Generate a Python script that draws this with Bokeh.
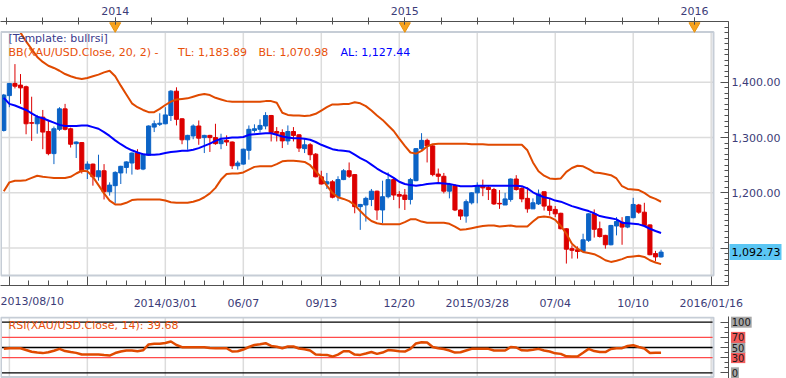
from bokeh.plotting import figure
from bokeh.layouts import column
from bokeh.models import (Range1d, FixedTicker, LinearAxis, Label,
                          NumeralTickFormatter, ColumnDataSource)
from bokeh.core.properties import value
from bokeh.embed import file_html
from bokeh.resources import INLINE

# ---------------- data (weekly XAU/USD) ----------------
opens = [1313, 1376, 1398, 1395, 1392, 1327, 1325, 1337, 1311, 1271,
         1315, 1352, 1316, 1289, 1291, 1243, 1252, 1229, 1240, 1202,
         1213, 1236, 1246, 1254, 1272, 1243, 1268, 1319, 1324, 1325,
         1340, 1384, 1334, 1296, 1303, 1321, 1300, 1304, 1300, 1289,
         1295, 1292, 1249, 1252, 1277, 1313, 1315, 1321, 1340, 1311,
         1309, 1294, 1311, 1305, 1280, 1287, 1270, 1229, 1216, 1220,
         1193, 1224, 1240, 1233, 1175, 1178, 1188, 1203, 1169, 1193,
         1224, 1197, 1196, 1188, 1222, 1280, 1295, 1285, 1234, 1230,
         1203, 1213, 1169, 1158, 1182, 1200, 1213, 1210, 1206, 1181,
         1178, 1188, 1225, 1208, 1190, 1171, 1180, 1202, 1176, 1170,
         1163, 1135, 1099, 1097, 1094, 1114, 1162, 1135, 1123, 1106,
         1140, 1147, 1138, 1155, 1178, 1165, 1142, 1090, 1084]
highs = [1379, 1399, 1433, 1415, 1394, 1374, 1341, 1350, 1332, 1320,
         1355, 1361, 1318, 1293, 1292, 1257, 1253, 1269, 1252, 1219,
         1239, 1249, 1257, 1273, 1279, 1271, 1322, 1331, 1344, 1355,
         1386, 1391, 1335, 1305, 1324, 1331, 1305, 1305, 1325, 1307,
         1304, 1293, 1258, 1280, 1322, 1324, 1333, 1346, 1341, 1319,
         1315, 1322, 1319, 1306, 1299, 1290, 1272, 1240, 1236, 1223,
         1230, 1243, 1255, 1234, 1180, 1193, 1207, 1204, 1222, 1237,
         1227, 1203, 1207, 1227, 1281, 1308, 1298, 1288, 1244, 1236,
         1218, 1216, 1170, 1188, 1201, 1219, 1224, 1213, 1209, 1205,
         1200, 1226, 1232, 1210, 1210, 1190, 1206, 1202, 1189, 1176,
         1164, 1136, 1105, 1103, 1126, 1163, 1170, 1148, 1124, 1142,
         1156, 1156, 1158, 1191, 1180, 1182, 1143, 1095, 1097]
lows = [1311, 1355, 1389, 1361, 1306, 1294, 1307, 1279, 1268, 1252,
        1312, 1313, 1282, 1263, 1235, 1225, 1213, 1222, 1188, 1195,
        1181, 1216, 1235, 1233, 1242, 1241, 1267, 1310, 1321, 1324,
        1330, 1322, 1288, 1278, 1297, 1287, 1272, 1274, 1287, 1279,
        1285, 1243, 1242, 1251, 1260, 1309, 1309, 1315, 1293, 1293,
        1281, 1287, 1293, 1274, 1272, 1259, 1228, 1215, 1207, 1190,
        1185, 1223, 1227, 1163, 1133, 1148, 1176, 1151, 1145, 1190,
        1187, 1172, 1169, 1179, 1221, 1278, 1255, 1230, 1218, 1199,
        1190, 1167, 1151, 1146, 1179, 1181, 1194, 1187, 1178, 1171,
        1178, 1184, 1204, 1183, 1164, 1171, 1178, 1168, 1159, 1156,
        1134, 1072, 1081, 1081, 1093, 1111, 1119, 1119, 1099, 1105,
        1123, 1106, 1136, 1154, 1162, 1139, 1087, 1076, 1083]
closes = [1377, 1398, 1393, 1390, 1325, 1326, 1337, 1310, 1271, 1316,
          1352, 1315, 1288, 1292, 1240, 1252, 1229, 1240, 1202, 1214,
          1237, 1248, 1256, 1272, 1243, 1270, 1321, 1325, 1326, 1341,
          1384, 1333, 1296, 1304, 1321, 1299, 1304, 1300, 1289, 1295,
          1292, 1249, 1254, 1279, 1315, 1316, 1322, 1340, 1309, 1308,
          1294, 1311, 1304, 1281, 1287, 1269, 1229, 1216, 1220, 1192,
          1224, 1240, 1230, 1175, 1179, 1190, 1203, 1169, 1193, 1224,
          1196, 1194, 1188, 1224, 1280, 1295, 1285, 1233, 1230, 1203,
          1215, 1169, 1158, 1184, 1200, 1213, 1209, 1206, 1180, 1180,
          1189, 1225, 1206, 1189, 1171, 1182, 1198, 1176, 1168, 1162,
          1135, 1098, 1096, 1094, 1115, 1162, 1134, 1121, 1106, 1141,
          1148, 1138, 1157, 1179, 1165, 1141, 1088, 1084, 1092.73]

bb_upper = [1541, 1515, 1500, 1490, 1474, 1460, 1446, 1437, 1430, 1426,
            1421, 1415, 1411, 1408, 1406, 1408, 1411, 1414, 1418, 1421,
            1411, 1394, 1378, 1362, 1355, 1350, 1346, 1346, 1352, 1359,
            1365, 1369, 1370, 1371, 1374, 1377, 1379, 1377, 1372, 1369,
            1366, 1365, 1365, 1365, 1365, 1365, 1365, 1366, 1366, 1363,
            1345, 1341, 1340, 1340, 1339, 1340, 1343, 1349, 1355, 1360,
            1360, 1361, 1361, 1364, 1362, 1357, 1349, 1340, 1332, 1322,
            1312, 1298, 1285, 1273, 1271, 1276, 1284, 1288, 1289, 1289,
            1289, 1289, 1289, 1289, 1288, 1288, 1288, 1287, 1287, 1287,
            1287, 1287, 1287, 1287, 1277, 1255, 1239, 1231, 1226, 1225,
            1226, 1238, 1245, 1249, 1248, 1243, 1237, 1236, 1234, 1232,
            1226, 1212, 1207, 1206, 1205, 1200, 1193, 1189, 1183.89]
bb_mid = [1372, 1361, 1358, 1354, 1350, 1344, 1338, 1335, 1331, 1327,
          1323, 1321, 1321, 1321, 1322, 1322, 1319, 1316, 1310, 1303,
          1295, 1288, 1282, 1277, 1273, 1270, 1269, 1269, 1270, 1272,
          1274, 1275, 1276, 1276, 1278, 1281, 1285, 1289, 1294, 1298,
          1299, 1300, 1300, 1301, 1305, 1306, 1307, 1308, 1308, 1305,
          1302, 1300, 1299, 1299, 1298, 1296, 1292, 1287, 1283, 1279,
          1277, 1276, 1275, 1269, 1263, 1258, 1251, 1244, 1238, 1233,
          1227, 1220, 1216, 1214, 1213, 1214, 1216, 1217, 1218, 1217,
          1216, 1214, 1212, 1212, 1212, 1213, 1213, 1213, 1213, 1213,
          1213, 1213, 1213, 1212, 1208, 1201, 1196, 1192, 1190, 1186,
          1184, 1180, 1176, 1173, 1170, 1167, 1163, 1158, 1156, 1154,
          1152, 1146, 1145, 1144, 1143, 1140, 1135, 1131, 1127.44]
bb_lower = [1203, 1219, 1222, 1222, 1223, 1227, 1231, 1229, 1228, 1227,
            1227, 1227, 1229, 1235, 1240, 1239, 1229, 1214, 1199, 1186,
            1179, 1179, 1182, 1187, 1188, 1188, 1188, 1188, 1188, 1186,
            1183, 1182, 1182, 1182, 1184, 1187, 1192, 1199, 1209, 1224,
            1234, 1235, 1235, 1237, 1242, 1247, 1248, 1248, 1248, 1252,
            1257, 1258, 1258, 1257, 1256, 1250, 1239, 1228, 1213, 1200,
            1192, 1189, 1185, 1178, 1167, 1157, 1149, 1145, 1143, 1143,
            1143, 1143, 1147, 1152, 1152, 1148, 1146, 1146, 1146, 1146,
            1144, 1139, 1133, 1134, 1136, 1138, 1140, 1141, 1141, 1139,
            1140, 1141, 1139, 1139, 1139, 1148, 1156, 1157, 1156, 1151,
            1140, 1126, 1108, 1099, 1093, 1091, 1089, 1084, 1078, 1075,
            1077, 1080, 1084, 1085, 1086, 1084, 1078, 1074, 1070.98]
rsi = [47.5, 48.6, 48.6, 48.6, 45, 41.5, 40, 38.9, 40.5, 43.5,
       47.3, 43, 41, 39.4, 36.1, 36.1, 36.1, 36.1, 35, 34.1,
       39, 42, 44, 44, 42.7, 44.5, 56, 57.2, 57.2, 59,
       61.8, 55, 50.6, 50.6, 50.6, 50.6, 50.6, 48.8, 48.6, 48.6,
       48.6, 42, 42.5, 46, 51, 55, 56.5, 58.5, 53, 51.5,
       48.6, 52, 51.9, 48, 46.5, 44, 36.1, 35.7, 35.4, 32.1,
       36, 42.7, 42.7, 36, 35.4, 38, 41, 37.4, 40, 45,
       44, 42.5, 42, 47.3, 58, 60.5, 60, 51, 48.6, 47,
       44, 40, 40.7, 44, 47.3, 47.3, 47.3, 47.3, 44, 44,
       44, 51, 50, 44.5, 44, 45.5, 47.3, 44, 42, 38.5,
       37.4, 32.5, 32.1, 32.1, 39.5, 47.3, 43, 41, 41, 47,
       48.6, 48.6, 53, 54.5, 51, 48, 39, 39.7, 39.68]

first_date_label = "2013/08/10"
date_tick_weeks = [1, 15, 29, 43, 57, 71, 85, 99, 113, 127]
date_tick_labels = ["", "", "2014/03/01", "06/07", "09/13", "12/20",
                    "2015/03/28", "07/04", "10/10", "2016/01/16"]
year_weeks = [20, 72, 124]
year_labels = ["2014", "2015", "2016"]
price_ticks = [1100, 1200, 1300, 1400]
rsi_levels = [0, 30, 50, 70, 100]
rsi_level_colors = ["#000000", "#FF4A4A", "#000000", "#FF4A4A", "#000000"]
rsi_tag_colors = ["#A6A6A6", "#F25C5C", "#A6A6A6", "#F25C5C", "#A6A6A6"]

legend_template = "[Template: bullrsi]"
legend_bb = "BB(XAU/USD.Close, 20, 2) -"
legend_tl = "TL: 1,183.89"
legend_bl = "BL: 1,070.98"
legend_al = "AL: 1,127.44"
legend_rsi = "RSI(XAU/USD.Close, 14): 39.68"

# ---------------- styling / geometry ----------------
FONT = "DejaVu Sans"
UP, DOWN = "#0B63C6", "#DC0000"
BB_COL, SMA_COL = "#E04A00", "#0000FF"
GRID = "#DCDCDC"
FRAME = "#C6CDD6"
AXIS = "#505050"
LABEL = "#3C3C78"

n = len(closes)
weeks = list(range(n))

PXW = 5.57
X0 = -3.3 / PXW
PLOT_W = 728
XEND = X0 + PLOT_W / PXW


def X(px):
    return X0 + px / PXW


PPY = 0.5567
TOP, BOT = 21, 287
Y_TOP = 1400 + (82.3 - TOP) / PPY
Y_BOT = Y_TOP - (BOT - TOP) / PPY


def Y(py):
    return Y_TOP - (py - TOP) / PPY


def style_axis(ax, size="11px"):
    ax.axis_line_color = AXIS
    ax.major_tick_line_color = AXIS
    ax.minor_tick_line_color = AXIS
    ax.major_label_text_font = FONT
    ax.major_label_text_font_size = size
    ax.major_label_text_color = LABEL


# ---------------- main price panel ----------------
MAIN_H = 312
p = figure(width=786, height=MAIN_H, x_range=Range1d(X0, XEND),
           y_range=Range1d(Y_BOT, Y_TOP), output_backend="svg",
           toolbar_location=None, x_axis_location=None, y_axis_location=None,
           min_border_left=0, min_border_right=58, min_border_top=TOP,
           min_border_bottom=MAIN_H - BOT)
p.outline_line_color = None
p.grid.visible = False

FR_L, FR_R = X(0.5), X(713)
FR_B, FR_T = Y(277), Y(31.7)

# grid lines inside the frame
p.segment(x0=date_tick_weeks, y0=[FR_B] * len(date_tick_weeks),
          x1=date_tick_weeks, y1=[FR_T] * len(date_tick_weeks),
          line_color=GRID, line_width=1.5)
p.segment(x0=[FR_L] * len(price_ticks), y0=price_ticks,
          x1=[FR_R] * len(price_ticks), y1=price_ticks,
          line_color=GRID, line_width=1.5)

colors = [UP if c > o else DOWN for o, c in zip(opens, closes)]
src = ColumnDataSource(dict(
    x=weeks, h=highs, l=lows,
    top=[max(o, c) for o, c in zip(opens, closes)],
    bottom=[min(o, c) for o, c in zip(opens, closes)],
    color=colors))
p.segment(x0="x", y0="h", x1="x", y1="l", source=src, line_color="color",
          line_width=1)
p.vbar(x="x", width=0.74, top="top", bottom="bottom", source=src,
       fill_color="color", line_color="color", line_width=1)

p.line(weeks, bb_upper, line_color=BB_COL, line_width=2)
p.line(weeks, bb_lower, line_color=BB_COL, line_width=2)
p.line(weeks, bb_mid, line_color=SMA_COL, line_width=2)

# white strip above the frame, then frame border
p.quad(left=X0 - 1, right=XEND + 1, bottom=FR_T, top=Y_TOP + 5,
       fill_color="white", line_color=None)
p.quad(left=FR_L, right=FR_R, bottom=FR_B, top=FR_T, fill_color=None,
       line_color=FRAME, line_width=2)

p.scatter(x=year_weeks, y=[Y(25.5)] * len(year_weeks),
          marker="inverted_triangle", size=11, fill_color="#F6A21E",
          line_color="#E8900A")

# axes
top_minor = [year_weeks[0] + 6.5 * k for k in range(-3, 17)]
top_axis = LinearAxis(ticker=FixedTicker(ticks=year_weeks, minor_ticks=top_minor),
                      major_label_overrides=dict(zip(year_weeks, year_labels)))
style_axis(top_axis)
top_axis.major_tick_in = 3
top_axis.major_tick_out = 4
top_axis.minor_tick_in = 3
top_axis.minor_tick_out = 4
top_axis.major_label_standoff = 3
p.add_layout(top_axis, "above")

bot_minor = [date_tick_weeks[0] + 3.5 * k for k in range(0, 38)]
bot_axis = LinearAxis(ticker=FixedTicker(ticks=date_tick_weeks, minor_ticks=bot_minor),
                      major_label_overrides=dict(zip(date_tick_weeks, date_tick_labels)))
style_axis(bot_axis)
bot_axis.major_tick_in = 9
bot_axis.major_tick_out = 0
bot_axis.minor_tick_in = 5
bot_axis.minor_tick_out = 0
bot_axis.major_label_standoff = 11
p.add_layout(bot_axis, "below")

right_minor = list(range(1040, 1520, 10))
right_axis = LinearAxis(ticker=FixedTicker(ticks=price_ticks, minor_ticks=right_minor),
                        formatter=NumeralTickFormatter(format="0,0.00"),
                        major_label_overrides={1100: ""})
style_axis(right_axis)
right_axis.major_tick_in = 8
right_axis.major_tick_out = 0
right_axis.minor_tick_in = 4
right_axis.minor_tick_out = 0
right_axis.major_label_standoff = 3
p.add_layout(right_axis, "right")

# legend texts
p.add_layout(Label(x=X(8), y=Y(38.5), text=legend_template, text_font=FONT,
                   text_font_size="11px", text_color="#3A3A8C",
                   text_baseline="middle"))
for px, txt, col in [(8, legend_bb, "#E8500A"), (177.5, legend_tl, "#E8500A"),
                     (258, legend_bl, "#E8500A"), (340, legend_al, "#0000FF")]:
    p.add_layout(Label(x=X(px), y=Y(52), text=txt, text_font=FONT,
                       text_font_size="11px", text_color=col,
                       text_baseline="middle"))

# texts outside the frame: overlay-level glyphs (not clipped to the frame)
p.text(x=[X(0)], y=[Y(303)], text=[first_date_label], text_font=value(FONT),
       text_font_size="11px", text_color=LABEL, text_baseline="middle",
       text_align="left", level="overlay")

last_txt = "{:,.2f}".format(closes[-1])
tag_w = 52
p.rect(x=[X(729 + tag_w / 2)], y=[closes[-1]], width=tag_w, height=16,
       width_units="screen", height_units="screen", fill_color="#5BC6F4",
       line_color=None, level="overlay")
p.text(x=[X(731)], y=[closes[-1]], text=[last_txt], text_font=value(FONT),
       text_font_size="11px", text_color="#000000", text_baseline="middle",
       text_align="left", level="overlay")

# ---------------- RSI panel ----------------
RPPY = 0.506
R_TOPPX = 316
RSI_H = 378 - MAIN_H
R_TOP = 100 + (321.7 - R_TOPPX) / RPPY
R_BOT = R_TOP - (378 - R_TOPPX) / RPPY


def RY(py):
    return R_TOP - (py - R_TOPPX) / RPPY


r = figure(width=786, height=RSI_H, x_range=Range1d(X0, XEND),
           y_range=Range1d(R_BOT, R_TOP), output_backend="svg",
           toolbar_location=None, x_axis_location=None, y_axis_location=None,
           min_border_left=0, min_border_right=58,
           min_border_top=R_TOPPX - MAIN_H, min_border_bottom=0)
r.outline_line_color = None
r.grid.visible = False

RF_B, RF_T = RY(376.5), RY(317)
r.segment(x0=date_tick_weeks, y0=[RF_B] * len(date_tick_weeks),
          x1=date_tick_weeks, y1=[RF_T] * len(date_tick_weeks),
          line_color=GRID, line_width=1.5)
r.segment(x0=[FR_L] * len(rsi_levels), y0=rsi_levels,
          x1=[FR_R] * len(rsi_levels), y1=rsi_levels,
          line_color=rsi_level_colors, line_width=1.3)
r.line(weeks, rsi, line_color=BB_COL, line_width=2.5)
r.quad(left=FR_L, right=FR_R, bottom=RF_B, top=RF_T, fill_color=None,
       line_color=FRAME, line_width=2)

rsi_axis = LinearAxis(ticker=FixedTicker(ticks=rsi_levels,
                                         minor_ticks=list(range(0, 101, 10))),
                      major_label_overrides={lv: "" for lv in rsi_levels})
style_axis(rsi_axis)
rsi_axis.major_tick_in = 8
rsi_axis.major_tick_out = 0
rsi_axis.minor_tick_in = 4
rsi_axis.minor_tick_out = 0
r.add_layout(rsi_axis, "right")

r.add_layout(Label(x=X(8), y=RY(325), text=legend_rsi, text_font=FONT,
                   text_font_size="11px", text_color="#E8500A",
                   text_baseline="middle"))

tag_txt = [str(lv) for lv in rsi_levels]
tag_ws = [len(t) * 6.4 + 1.5 for t in tag_txt]
r.rect(x=[X(730.5 + w / 2) for w in tag_ws], y=rsi_levels, width=tag_ws,
       height=11, width_units="screen", height_units="screen",
       fill_color=rsi_tag_colors, line_color=None, level="overlay")
r.text(x=[X(731.2)] * len(rsi_levels), y=rsi_levels, text=tag_txt,
       text_font=value(FONT), text_font_size="10px", text_color="#1A1A1A",
       text_baseline="middle", text_align="left", level="overlay")

layout = column(p, r)
open("out.html", "w").write(file_html(layout, INLINE))
